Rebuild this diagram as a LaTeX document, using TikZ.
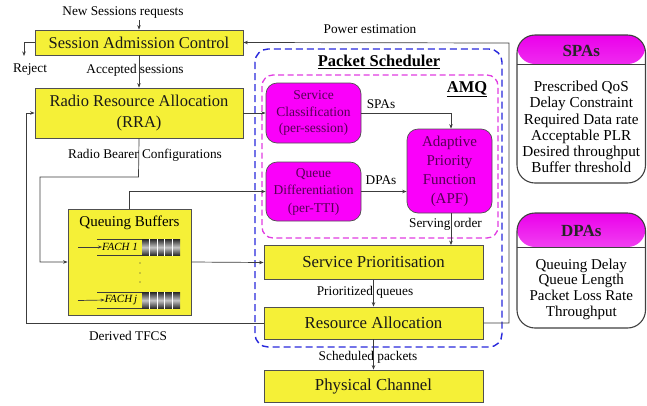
\documentclass[tikz,border=0pt]{standalone}
\usepackage{fontspec}
\setmainfont{Liberation Serif}
\usetikzlibrary{arrows.meta,calc}

\definecolor{yfill}{RGB}{245,240,55}
\definecolor{boxline}{RGB}{80,80,80}
\definecolor{connline}{RGB}{60,60,60}
\definecolor{magfill}{RGB}{250,0,250}
\definecolor{magtext}{RGB}{85,0,85}
\definecolor{psblue}{RGB}{40,40,220}
\definecolor{amqmag}{RGB}{225,60,225}
\definecolor{hdrmag}{RGB}{235,0,235}

\tikzset{
  ybox/.style={draw=boxline, line width=0.8pt, fill=yfill, inner sep=0pt,
    text=black!90, align=center},
  mbox/.style={draw=boxline, line width=0.7pt, fill=magfill, rounded corners=11pt,
    inner sep=0pt, text=magtext, align=center},
  conn/.style={draw=connline, line width=0.7pt},
  arr/.style={conn, -{Stealth[length=4.5pt,width=3.5pt]}},
  lbl/.style={inner sep=0pt, font=\fontsize{13.3}{15}\selectfont},
  panel/.style={draw=boxline!80!black, line width=1.1pt, rounded corners=18pt,
    fill=white, inner sep=0pt},
  qcell/.style={top color=black!85, bottom color=black!85, middle color=gray!45},
}

\begin{document}
\begin{tikzpicture}[x=1pt, y=-1pt]
\useasboundingbox (0,0) rectangle (647,405);

% ---------- left column ----------
\node[ybox, minimum width=208, minimum height=25, font=\fontsize{16.5}{19}\selectfont]
  (sac) at (139,42.5) {Session Admission Control};
\node[ybox, minimum width=208, minimum height=50, font=\fontsize{16.5}{21}\selectfont]
  (rra) at (139,113) {Radio Resource Allocation\\(RRA)};
\node[ybox, minimum width=123, minimum height=106] (qb) at (129.5,262) {};
\node[inner sep=0pt, font=\fontsize{15}{17}\selectfont] (qbt) at (129.5,223) {Queuing Buffers};

% queue rows inside the buffers
\node[inner sep=0pt, font=\itshape\fontsize{11}{12}\selectfont] (fach1) at (120,247) {FACH 1};
\node[inner sep=0pt, font=\itshape\fontsize{11}{12}\selectfont] (fachj) at (121,300) {FACH\,j};
\draw[connline, line width=0.6pt] (97,239) -- (142,239) (97,255.5) -- (142,255.5);
\draw[connline, line width=0.6pt] (97,292) -- (142,292) (97,308.5) -- (142,308.5);
\foreach \i in {0,...,4} {
  \shade[qcell] ({142+7.6*\i},239) rectangle ({142+7.6*\i+7.6},255.5);
  \shade[qcell] ({142+7.6*\i},292) rectangle ({142+7.6*\i+7.6},308.5);
}
\foreach \i in {1,...,4} {
  \draw[white, line width=0.8pt] ({142+7.6*\i},239) -- ({142+7.6*\i},255.5);
  \draw[white, line width=0.8pt] ({142+7.6*\i},292) -- ({142+7.6*\i},308.5);
}
\coordinate (f1in) at (78,247);
\coordinate (fjin) at (78,300.5);
\draw[arr, -{Stealth[length=4pt,width=3pt]}] (f1in) -- (fach1.west);
\draw[arr, -{Stealth[length=4pt,width=3pt]}] (fjin) -- (fachj.west);
\foreach \yy in {263,273,282} \fill[black!80] (140,\yy) circle (0.7);

% ---------- packet scheduler ----------
\draw[psblue, line width=1.4pt, dash pattern=on 7pt off 4pt, rounded corners=13pt]
  (255,49) rectangle (502,347);
\node[inner sep=0pt, font=\bfseries\fontsize{16.5}{19}\selectfont] (pst) at (379,62)
  {\underline{Packet Scheduler}};
\draw[amqmag, line width=1.3pt, dash pattern=on 6pt off 3.5pt, rounded corners=11pt]
  (262,75) rectangle (498,238);
\node[inner sep=0pt, font=\bfseries\fontsize{16.5}{19}\selectfont] (amq) at (467,89)
  {\underline{AMQ}};

\node[mbox, minimum width=95, minimum height=60, font=\fontsize{13.5}{16.5}\selectfont]
  (sc) at (313.5,113) {Service\\Classification\\(per-session)};
\node[mbox, minimum width=95, minimum height=59, font=\fontsize{13.5}{17.5}\selectfont]
  (qd) at (313.5,191.5) {Queue\\Differentiation\\(per-TTI)};
\node[mbox, minimum width=85, minimum height=84, font=\fontsize{15}{19}\selectfont]
  (apf) at (449.5,171) {Adaptive\\Priority\\Function\\(APF)};

\node[ybox, minimum width=219, minimum height=34, font=\fontsize{16.8}{19}\selectfont]
  (sp) at (373.5,262.5) {Service Prioritisation};
\node[ybox, minimum width=219, minimum height=32, font=\fontsize{16.8}{19}\selectfont]
  (ra) at (373.5,323) {Resource Allocation};
\node[ybox, minimum width=219, minimum height=32, font=\fontsize{16.8}{19}\selectfont]
  (pc) at (373.5,386) {Physical Channel};

% ---------- connectors ----------
\coordinate (ns) at (139,20);
\coordinate (rj) at (24,56);
\coordinate (rb1) at (138.5,177);
\coordinate (rb2) at (40,177);
\coordinate (lp) at (26,323);
\coordinate (pw) at (509,43);

\draw[arr] (ns) -- (sac.north);
\draw[arr] (sac.west) -| (rj);
\draw[arr] (sac.south) -- (rra.north);
\draw[arr] (rra.east) -- (sc.west);
\draw[arr] (ra.west) -- (lp) |- (rra.west);
\draw[arr] (rra.south) -- (rb1) -- (rb2) |- (qb.west);
\draw[arr] (qb.north) |- (qd.west);
\draw[arr] (qb.east) -- (sp.west);
\draw[arr] (sc.east) -| ([xshift=1.5pt]apf.north);
\draw[arr] (qd.east) -- (qd.east -| apf.west);
\draw[arr] ([xshift=1.5pt]apf.south) -- ([xshift=1.5pt]apf.south |- sp.north);
\draw[arr] (sp.south) -- (ra.north);
\draw[arr] (ra.south) -- (pc.north);
\draw[arr] (ra.east) -| (pw) -- (sac.east);

% ---------- connector labels ----------
\node[lbl] (l1) at (123,13) {New Sessions requests};
\node[lbl] (l2) at (30,70) {Reject};
\node[lbl] (l3) at (135,70) {Accepted sessions};
\node[lbl] (l4) at (370,29) {Power estimation};
\node[lbl] (l5) at (145,155) {Radio Bearer Configurations};
\node[lbl] (l6) at (128,336) {Derived TFCS};
\node[lbl] (l7) at (381,104) {SPAs};
\node[lbl] (l8) at (381,180) {DPAs};
\node[lbl] (l9) at (445.5,224) {Serving order};
\node[lbl] (l10) at (365,292) {Prioritized queues};
\node[lbl] (l11) at (368,357) {Scheduled packets};

% ---------- parameter panels ----------
\node[panel, minimum width=128.5, minimum height=148,
  path picture={
    \shade[top color=hdrmag, bottom color=white!85!magenta]
      (path picture bounding box.north west) rectangle
      ([yshift=-29pt]path picture bounding box.north east);
    \draw[boxline!80!black, line width=1pt]
      ([yshift=-29pt]path picture bounding box.north west) --
      ([yshift=-29pt]path picture bounding box.north east);
  }] (spa) at (581.25,109) {};
\node[inner sep=0pt, font=\bfseries\fontsize{17}{19}\selectfont, text=black!85] (spat) at (581.25,51) {SPAs};
\node[inner sep=0pt, align=center, font=\fontsize{15.2}{16.2}\selectfont] (spal) at (581.25,127)
  {Prescribed QoS\\Delay Constraint\\Required Data rate\\Acceptable PLR\\Desired throughput\\Buffer threshold};

\node[panel, minimum width=128.5, minimum height=115,
  path picture={
    \shade[top color=hdrmag, bottom color=white!85!magenta]
      (path picture bounding box.north west) rectangle
      ([yshift=-34pt]path picture bounding box.north east);
    \draw[boxline!80!black, line width=1pt]
      ([yshift=-34pt]path picture bounding box.north west) --
      ([yshift=-34pt]path picture bounding box.north east);
  }] (dpa) at (581.25,270.5) {};
\node[inner sep=0pt, font=\bfseries\fontsize{17}{19}\selectfont, text=black!85] (dpat) at (581.25,231) {DPAs};
\node[inner sep=0pt, align=center, font=\fontsize{15}{15.7}\selectfont] (dpal) at (581.25,289)
  {Queuing Delay\\Queue Length\\Packet Loss Rate\\Throughput};

\end{tikzpicture}
\end{document}
